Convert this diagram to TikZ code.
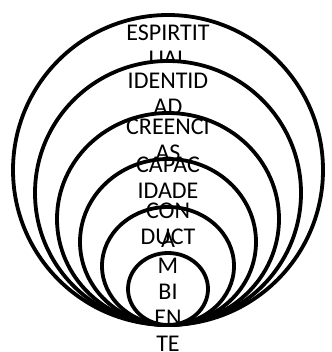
\documentclass[tikz,border=0pt]{standalone}
\usepackage{fontspec}
\setmainfont{Carlito}
\usetikzlibrary{shapes.geometric,positioning}
\tikzset{
  ring/.style={draw, fill=white, ellipse, line width=3.8pt, inner sep=0pt, outer sep=0pt, anchor=south},
  lvl/.style={align=center, inner sep=0pt, anchor=north, font=\fontsize{24}{26}\selectfont}
}
\begin{document}
\begin{tikzpicture}[x=1pt,y=1pt]
  \useasboundingbox (0,0) rectangle (331,352);
  \coordinate (tip) at (168,27);
  % each ring is filled white and hides the lines of the level outside it
  \node[ring, minimum width=310pt, minimum height=310pt] (r1) at (tip) {};
  \node[lvl] (espiritual) at (168,327) {ESPIRTIT\\UAL};
  \node[ring, minimum width=266pt, minimum height=264pt] (r2) at (tip) {};
  \node[lvl] (identidad) at (168,279) {IDENTID\\AD};
  \node[ring, minimum width=222pt, minimum height=212pt] (r3) at (tip) {};
  \node[lvl] (creencias) at (168,233) {CREENCI\\AS};
  \node[ring, minimum width=176pt, minimum height=166pt] (r4) at (tip) {};
  \node[lvl] (capacidades) at (168,195) {CAPAC\\IDADE\\S};
  \node[ring, minimum width=132pt, minimum height=118pt] (r5) at (tip) {};
  \node[lvl] (conducta) at (168,149) {CON\\DUCT\\A};
  \node[ring, minimum width=80pt, minimum height=72pt] (r6) at (tip) {};
  \node[lvl] (ambiente) at (168,120) {A\\M\\BI\\EN\\TE};
\end{tikzpicture}
\end{document}
